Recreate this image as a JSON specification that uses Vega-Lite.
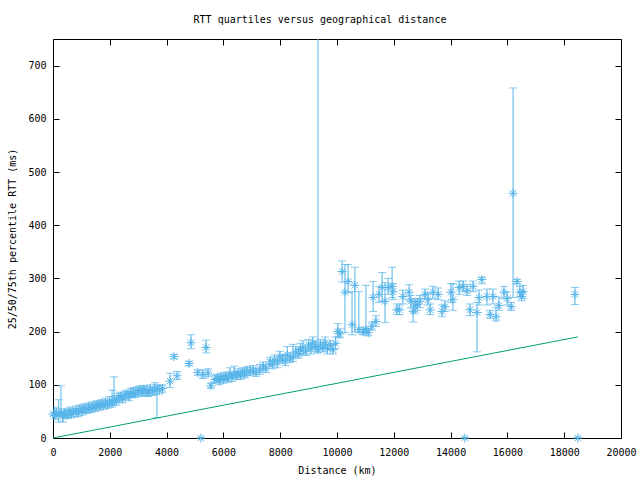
{
  "$schema": "https://vega.github.io/schema/vega-lite/v6.json",
  "width": 568,
  "height": 399,
  "autosize": "none",
  "padding": {"left": 53, "top": 39, "right": 19, "bottom": 42},
  "background": "white",
  "title": {"text": "RTT quartiles versus geographical distance", "font": "DejaVu Sans Mono", "fontSize": 10, "fontWeight": "normal", "color": "black", "offset": 14, "dx": -17},
  "config": {
    "view": {"stroke": null},
    "axis": {"labelFont": "DejaVu Sans Mono", "labelFontSize": 10, "labelColor": "black", "titleFont": "DejaVu Sans Mono", "titleFontSize": 10, "titleFontWeight": "normal", "titleColor": "black", "domainColor": "black", "tickColor": "black", "grid": false, "tickSize": -6, "labelFlush": false, "labelOverlap": false}
  },
  "datasets": {
    "pts": [
      {"d":0,"m":45,"lo":38,"hi":52},{"d":60,"m":42,"lo":35,"hi":58},{"d":120,"m":47,"lo":40,"hi":55},{"d":200,"m":44,"lo":30,"hi":72},
      {"d":280,"m":48,"lo":42,"hi":98},{"d":350,"m":40,"lo":30,"hi":50},{"d":420,"m":46,"lo":38,"hi":55},{"d":500,"m":43,"lo":37,"hi":52},
      {"d":580,"m":50,"lo":42,"hi":58},{"d":650,"m":45,"lo":38,"hi":54},{"d":720,"m":48,"lo":40,"hi":56},{"d":800,"m":52,"lo":45,"hi":60},
      {"d":880,"m":47,"lo":40,"hi":55},{"d":950,"m":55,"lo":48,"hi":62},{"d":1030,"m":50,"lo":43,"hi":58},{"d":1100,"m":56,"lo":48,"hi":64},
      {"d":1180,"m":53,"lo":46,"hi":62},{"d":1250,"m":58,"lo":50,"hi":66},{"d":1330,"m":55,"lo":48,"hi":63},{"d":1400,"m":60,"lo":53,"hi":68},
      {"d":1480,"m":57,"lo":50,"hi":66},{"d":1550,"m":62,"lo":55,"hi":70},{"d":1630,"m":60,"lo":52,"hi":68},{"d":1700,"m":64,"lo":57,"hi":72},
      {"d":1780,"m":61,"lo":54,"hi":70},{"d":1850,"m":66,"lo":58,"hi":75},{"d":1920,"m":63,"lo":56,"hi":71},{"d":2000,"m":68,"lo":60,"hi":78},
      {"d":2080,"m":66,"lo":58,"hi":90},{"d":2150,"m":72,"lo":62,"hi":115},{"d":2230,"m":70,"lo":62,"hi":80},{"d":2300,"m":75,"lo":67,"hi":84},
      {"d":2380,"m":78,"lo":70,"hi":86},{"d":2450,"m":74,"lo":66,"hi":82},{"d":2530,"m":80,"lo":72,"hi":88},{"d":2600,"m":82,"lo":75,"hi":90},
      {"d":2680,"m":79,"lo":70,"hi":87},{"d":2750,"m":84,"lo":76,"hi":93},{"d":2830,"m":86,"lo":78,"hi":95},{"d":2900,"m":83,"lo":76,"hi":92},
      {"d":2980,"m":88,"lo":80,"hi":96},{"d":3050,"m":90,"lo":82,"hi":98},{"d":3130,"m":86,"lo":78,"hi":94},{"d":3200,"m":91,"lo":83,"hi":99},
      {"d":3280,"m":89,"lo":80,"hi":97},{"d":3350,"m":85,"lo":78,"hi":92},{"d":3430,"m":92,"lo":84,"hi":100},{"d":3500,"m":88,"lo":80,"hi":96},
      {"d":3580,"m":90,"lo":82,"hi":104},{"d":3660,"m":94,"lo":38,"hi":100},{"d":3750,"m":90,"lo":83,"hi":98},{"d":3850,"m":93,"lo":86,"hi":100},
      {"d":4120,"m":107,"lo":95,"hi":122},{"d":4260,"m":153,"lo":149,"hi":157},{"d":4370,"m":117,"lo":110,"hi":125},{"d":4790,"m":140,"lo":136,"hi":144},
      {"d":4860,"m":179,"lo":168,"hi":194},{"d":5100,"m":123,"lo":118,"hi":128},{"d":5210,"m":0,"lo":0,"hi":0},{"d":5280,"m":119,"lo":112,"hi":128},
      {"d":5390,"m":170,"lo":160,"hi":184},{"d":5460,"m":122,"lo":115,"hi":130},{"d":5560,"m":98,"lo":94,"hi":103},{"d":5700,"m":110,"lo":104,"hi":118},
      {"d":5780,"m":112,"lo":104,"hi":120},{"d":5850,"m":108,"lo":100,"hi":116},{"d":5920,"m":115,"lo":108,"hi":122},{"d":6000,"m":110,"lo":103,"hi":118},
      {"d":6080,"m":116,"lo":108,"hi":124},{"d":6150,"m":112,"lo":105,"hi":120},{"d":6230,"m":120,"lo":112,"hi":132},{"d":6300,"m":114,"lo":106,"hi":122},
      {"d":6380,"m":121,"lo":113,"hi":135},{"d":6450,"m":117,"lo":110,"hi":125},{"d":6530,"m":122,"lo":114,"hi":130},{"d":6600,"m":118,"lo":110,"hi":126},
      {"d":6680,"m":124,"lo":116,"hi":132},{"d":6750,"m":120,"lo":113,"hi":128},{"d":6830,"m":126,"lo":118,"hi":134},{"d":6940,"m":125,"lo":117,"hi":133},
      {"d":7050,"m":128,"lo":120,"hi":136},{"d":7150,"m":123,"lo":116,"hi":131},{"d":7290,"m":128,"lo":120,"hi":138},{"d":7400,"m":134,"lo":126,"hi":143},
      {"d":7500,"m":131,"lo":123,"hi":139},{"d":7640,"m":143,"lo":134,"hi":152},{"d":7720,"m":138,"lo":130,"hi":147},{"d":7800,"m":146,"lo":138,"hi":156},
      {"d":7900,"m":141,"lo":132,"hi":150},{"d":7990,"m":153,"lo":144,"hi":163},{"d":8080,"m":148,"lo":140,"hi":157},{"d":8180,"m":145,"lo":136,"hi":155},
      {"d":8250,"m":156,"lo":146,"hi":172},{"d":8350,"m":150,"lo":142,"hi":160},{"d":8450,"m":153,"lo":144,"hi":176},{"d":8550,"m":162,"lo":152,"hi":172},
      {"d":8650,"m":158,"lo":150,"hi":168},{"d":8720,"m":166,"lo":156,"hi":178},{"d":8800,"m":170,"lo":158,"hi":183},{"d":8900,"m":163,"lo":155,"hi":172},
      {"d":9000,"m":175,"lo":165,"hi":185},{"d":9080,"m":168,"lo":158,"hi":178},{"d":9150,"m":179,"lo":170,"hi":190},{"d":9250,"m":172,"lo":162,"hi":182},
      {"d":9330,"m":166,"lo":160,"hi":1000},{"d":9420,"m":175,"lo":166,"hi":185},{"d":9500,"m":170,"lo":162,"hi":180},{"d":9580,"m":179,"lo":168,"hi":190},
      {"d":9660,"m":168,"lo":158,"hi":176},{"d":9760,"m":174,"lo":165,"hi":183},{"d":9860,"m":166,"lo":158,"hi":176},{"d":9950,"m":178,"lo":168,"hi":190},
      {"d":10030,"m":200,"lo":190,"hi":215},{"d":10100,"m":196,"lo":188,"hi":205},{"d":10180,"m":313,"lo":293,"hi":333},{"d":10280,"m":274,"lo":198,"hi":326},
      {"d":10390,"m":294,"lo":273,"hi":326},{"d":10530,"m":213,"lo":194,"hi":275},{"d":10630,"m":287,"lo":200,"hi":321},{"d":10770,"m":204,"lo":198,"hi":275},
      {"d":10920,"m":200,"lo":194,"hi":207},{"d":11020,"m":204,"lo":197,"hi":287},{"d":11100,"m":198,"lo":192,"hi":206},{"d":11230,"m":210,"lo":203,"hi":218},
      {"d":11270,"m":264,"lo":238,"hi":294},{"d":11370,"m":219,"lo":210,"hi":230},{"d":11480,"m":270,"lo":255,"hi":285},{"d":11590,"m":283,"lo":257,"hi":311},
      {"d":11690,"m":257,"lo":217,"hi":292},{"d":11800,"m":283,"lo":270,"hi":300},{"d":11940,"m":285,"lo":264,"hi":321},{"d":11970,"m":275,"lo":260,"hi":290},
      {"d":12110,"m":241,"lo":232,"hi":252},{"d":12200,"m":241,"lo":232,"hi":250},{"d":12320,"m":266,"lo":252,"hi":278},{"d":12540,"m":274,"lo":260,"hi":288},
      {"d":12600,"m":257,"lo":245,"hi":268},{"d":12680,"m":238,"lo":218,"hi":258},{"d":12750,"m":248,"lo":235,"hi":262},{"d":12820,"m":251,"lo":240,"hi":262},
      {"d":12920,"m":257,"lo":245,"hi":268},{"d":13100,"m":270,"lo":262,"hi":280},{"d":13200,"m":260,"lo":250,"hi":272},{"d":13280,"m":241,"lo":232,"hi":252},
      {"d":13380,"m":274,"lo":262,"hi":285},{"d":13560,"m":270,"lo":260,"hi":282},{"d":13700,"m":238,"lo":228,"hi":250},{"d":13800,"m":247,"lo":238,"hi":258},
      {"d":14010,"m":274,"lo":255,"hi":290},{"d":14080,"m":260,"lo":240,"hi":290},{"d":14300,"m":283,"lo":270,"hi":295},{"d":14440,"m":285,"lo":275,"hi":295},
      {"d":14500,"m":0,"lo":0,"hi":0},{"d":14580,"m":277,"lo":268,"hi":288},{"d":14680,"m":241,"lo":230,"hi":252},{"d":14790,"m":285,"lo":275,"hi":295},
      {"d":14930,"m":236,"lo":162,"hi":255},{"d":15000,"m":264,"lo":250,"hi":278},{"d":15100,"m":298,"lo":290,"hi":302},{"d":15280,"m":266,"lo":250,"hi":280},
      {"d":15390,"m":232,"lo":225,"hi":240},{"d":15490,"m":266,"lo":252,"hi":280},{"d":15600,"m":228,"lo":220,"hi":245},{"d":15700,"m":249,"lo":240,"hi":265},
      {"d":15880,"m":274,"lo":262,"hi":285},{"d":15990,"m":262,"lo":250,"hi":275},{"d":16130,"m":247,"lo":240,"hi":255},{"d":16200,"m":460,"lo":264,"hi":658},
      {"d":16340,"m":294,"lo":290,"hi":298},{"d":16440,"m":274,"lo":265,"hi":285},{"d":16500,"m":266,"lo":258,"hi":274},{"d":16550,"m":275,"lo":262,"hi":287},
      {"d":18380,"m":270,"lo":251,"hi":283},{"d":18480,"m":0,"lo":0,"hi":0}
    ],
    "lim": [{"d":0,"v":0},{"d":18480,"v":190}]
  },
  "resolve": {"axis": {"x": "independent", "y": "independent"}},
  "layer": [
    {
      "data": {"name": "pts"},
      "mark": {"type": "rule", "color": "#56B4E9", "strokeWidth": 1, "clip": true},
      "encoding": {
        "x": {"field": "d", "type": "quantitative", "scale": {"domain": [0, 20000], "nice": false, "zero": false}, "axis": {"orient": "bottom", "title": "Distance (km)", "values": [0,2000,4000,6000,8000,10000,12000,14000,16000,18000,20000], "format": "d", "labelPadding": 15, "titlePadding": 8}},
        "y": {"field": "lo", "type": "quantitative", "scale": {"domain": [0, 750], "nice": false, "zero": false}, "axis": {"orient": "left", "title": "25/50/75th percentile RTT (ms)", "values": [0,100,200,300,400,500,600,700], "labelPadding": 13, "titlePadding": 10}},
        "y2": {"field": "hi"}
      }
    },
    {
      "data": {"name": "pts"},
      "mark": {"type": "tick", "orient": "horizontal", "color": "#56B4E9", "size": 8, "thickness": 1, "clip": true},
      "encoding": {
        "x": {"field": "d", "type": "quantitative", "axis": null},
        "y": {"field": "lo", "type": "quantitative", "axis": null}
      }
    },
    {
      "data": {"name": "pts"},
      "mark": {"type": "tick", "orient": "horizontal", "color": "#56B4E9", "size": 8, "thickness": 1, "clip": true},
      "encoding": {
        "x": {"field": "d", "type": "quantitative", "axis": null},
        "y": {"field": "hi", "type": "quantitative", "axis": null}
      }
    },
    {
      "data": {"name": "pts"},
      "mark": {"type": "point", "shape": "M-1,0L1,0M0,-1L0,1M-0.7,-0.7L0.7,0.7M-0.7,0.7L0.7,-0.7", "filled": false, "color": "#56B4E9", "size": 81, "strokeWidth": 1, "opacity": 1},
      "encoding": {
        "x": {"field": "d", "type": "quantitative", "axis": null},
        "y": {"field": "m", "type": "quantitative", "axis": null}
      }
    },
    {
      "data": {"name": "lim"},
      "mark": {"type": "line", "color": "#009E73", "strokeWidth": 1},
      "encoding": {
        "x": {"field": "d", "type": "quantitative", "axis": {"orient": "top", "labels": false, "title": null, "values": [0,2000,4000,6000,8000,10000,12000,14000,16000,18000,20000]}},
        "y": {"field": "v", "type": "quantitative", "axis": {"orient": "right", "labels": false, "title": null, "values": [0,100,200,300,400,500,600,700]}}
      }
    }
  ]
}
